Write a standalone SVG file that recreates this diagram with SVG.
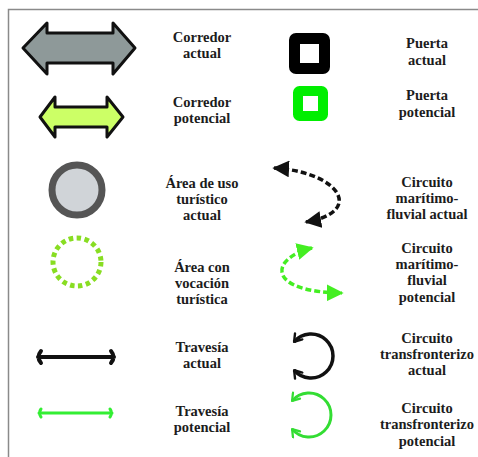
<svg xmlns="http://www.w3.org/2000/svg" width="478" height="457" viewBox="0 0 478 457">
<style>
text{font-family:"Liberation Serif","DejaVu Serif",serif;font-weight:bold;font-size:14.5px;fill:#1c1c1c;text-anchor:middle}
.border{stroke:#8a8a8a;stroke-width:1.5;fill:none}
.corr{stroke:#111;stroke-width:3;stroke-linejoin:round}
.dashk{fill:none;stroke:#111;stroke-width:3.5;stroke-dasharray:6 3}
.dashg{fill:none;stroke:#44ee22;stroke-width:3.5;stroke-dasharray:6 3}
.loopk{fill:none;stroke:#111;stroke-width:3.5}
.loopg{fill:none;stroke:#33dd33;stroke-width:3}
</style>
<defs>
<marker id="triK" viewBox="0 0 10 10" refX="9" refY="5" markerWidth="4.8" markerHeight="4.8" orient="auto-start-reverse" markerUnits="strokeWidth"><path d="M0,0 L10,5 L0,10 Z" fill="#111"/></marker>
<marker id="triG" viewBox="0 0 10 10" refX="9" refY="5" markerWidth="4.8" markerHeight="4.8" orient="auto-start-reverse" markerUnits="strokeWidth"><path d="M0,0 L10,5 L0,10 Z" fill="#44ee22"/></marker>
<marker id="chevK" viewBox="0 0 10 10" refX="8" refY="5" markerWidth="3.4" markerHeight="3.4" orient="auto-start-reverse" markerUnits="strokeWidth"><path d="M2,1 L8,5 L2,9" fill="none" stroke="#111" stroke-width="2" stroke-linecap="round" stroke-linejoin="round"/></marker>
<marker id="chevG" viewBox="0 0 10 10" refX="8" refY="5" markerWidth="3.8" markerHeight="3.8" orient="auto-start-reverse" markerUnits="strokeWidth"><path d="M2,1 L8,5 L2,9" fill="none" stroke="#33dd33" stroke-width="2" stroke-linecap="round" stroke-linejoin="round"/></marker>
</defs>
<rect width="478" height="457" fill="#fff"/>
<path class="border" d="M8.5,457 L8.5,9.5 L478,9.5"/>

<g id="corredor-actual">
<polygon class="corr" fill="#8e9999" points="23,48 47,23 47,33 113,33 113,23 135,48 113,74 113,63 47,63 47,74"/>
<text x="202" y="42">Corredor</text><text x="202" y="58">actual</text>
</g>
<g id="corredor-potencial">
<polygon class="corr" fill="#ccff66" points="40,117 55,97 55,107 107,107 107,97 123,117 107,137 107,127 55,127 55,137"/>
<text x="202" y="107">Corredor</text><text x="202" y="123">potencial</text>
</g>
<g id="puerta-actual">
<rect x="294.5" y="38.5" width="30" height="30" rx="1.5" fill="#fff" stroke="#000" stroke-width="11"/>
<text x="427" y="48">Puerta</text><text x="427" y="65">actual</text>
</g>
<g id="puerta-potencial">
<rect x="298" y="91" width="25" height="25" rx="1.5" fill="#fff" stroke="#00ee00" stroke-width="10"/>
<text x="427" y="100">Puerta</text><text x="427" y="117">potencial</text>
</g>
<g id="area-actual">
<circle cx="77" cy="190" r="25" fill="#d0d4d8" stroke="#555" stroke-width="7"/>
<text x="202" y="188">Área de uso</text><text x="202" y="204">turístico</text><text x="202" y="220">actual</text>
</g>
<g id="area-vocacion">
<circle cx="77" cy="262" r="24" fill="none" stroke="#88dd22" stroke-width="5" stroke-dasharray="4.5 3.5"/>
<text x="202" y="272">Área con</text><text x="202" y="288">vocación</text><text x="202" y="304">turística</text>
</g>
<g id="circuito-mf-actual">
<text x="427" y="187">Circuito</text><text x="427" y="203">marítimo-</text><text x="427" y="219">fluvial actual</text>
</g>
<g id="circuito-mf-potencial">
<text x="427" y="253">Circuito</text><text x="427" y="269">marítimo-</text><text x="427" y="285">fluvial</text><text x="427" y="302">potencial</text>
</g>
<g id="travesia-actual">
<path d="M38,357 L114,357 M41,351 Q36,357 41,363 M111,351 Q116,357 111,363" fill="none" stroke="#111" stroke-width="4" stroke-linecap="round"/>
<text x="202" y="352">Travesía</text><text x="202" y="368">actual</text>
</g>
<g id="travesia-potencial">
<path d="M39,413 L112,413 M41,409 Q38,413 41,417 M110,409 Q113,413 110,417" fill="none" stroke="#33ee33" stroke-width="3" stroke-linecap="round"/>
<text x="202" y="416">Travesía</text><text x="202" y="432">potencial</text>
</g>
<g id="circuito-tf-actual">
<text x="427" y="343">Circuito</text><text x="427" y="359">transfronterizo</text><text x="427" y="375">actual</text>
</g>
<g id="circuito-tf-potencial">
<text x="427" y="413">Circuito</text><text x="427" y="429">transfronterizo</text><text x="427" y="446">potencial</text>
</g>

<g id="connectors">
<path class="dashk" d="M274,168 C340,172 365,212 306,222" marker-start="url(#triK)" marker-end="url(#triK)"/>
<path class="dashg" d="M312,248 C270,258 265,292 342,293" marker-start="url(#triG)" marker-end="url(#triG)"/>
<path class="loopk" d="M294.1,341.9 A22 22 0 1 1 294.1,370.1" marker-start="url(#chevK)" marker-end="url(#chevK)"/>
<path class="loopg" d="M292.1,400.9 A22 22 0 1 1 292.1,429.1" marker-start="url(#chevG)" marker-end="url(#chevG)"/>
</g>
</svg>
